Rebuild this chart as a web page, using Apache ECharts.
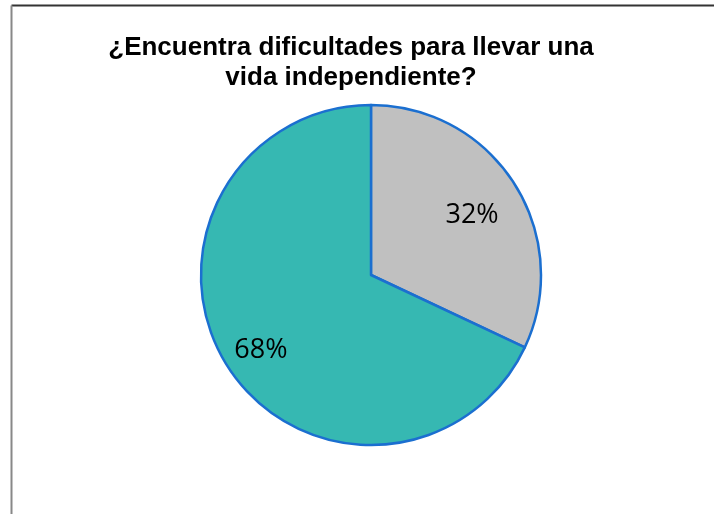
<!DOCTYPE html>
<html>
<head>
<meta charset="utf-8">
<script src="https://cdn.jsdelivr.net/npm/echarts@6/dist/echarts.min.js"></script>
<style>html,body{margin:0;padding:0;background:#fff}#c{width:714px;height:514px}</style>
</head>
<body>
<div id="c"></div>
<script>
const titleText = "¿Encuentra dificultades para llevar una\nvida independiente?";
const categories = ["Sí", "No"];
const values = [32, 68];
const colors = ["#C0C0C0", "#36B8B2"];
const labelOffsets = [[-7, 9], [-2, 7]];

const data = categories.map((c, i) => ({ name: c, value: values[i], itemStyle: { color: colors[i] } }));
const labelData = categories.map((c, i) => ({ name: c, value: values[i], label: { offset: labelOffsets[i] } }));

const chart = echarts.init(document.getElementById('c'));
chart.setOption({
  animation: false,
  backgroundColor: '#fff',
  graphic: [
    { type: 'line', shape: { x1: 11.5, y1: 5.5, x2: 714, y2: 5.5 }, style: { stroke: '#333', lineWidth: 2 } },
    { type: 'line', shape: { x1: 11.5, y1: 5.5, x2: 11.5, y2: 514 }, style: { stroke: '#888', lineWidth: 2 } }
  ],
  title: {
    text: titleText,
    left: 346, top: 28, textAlign: 'center',
    textStyle: { fontFamily: 'Liberation Sans', fontWeight: 'bold', fontSize: 26, lineHeight: 30, color: '#000' }
  },
  series: [
    {
      type: 'pie', center: [371, 275], radius: [0, 170], startAngle: 90, clockwise: true,
      label: { show: false }, labelLine: { show: false }, silent: true,
      itemStyle: { borderColor: '#1B6FD0', borderWidth: 2.5 },
      data: data
    },
    {
      type: 'pie', center: [371, 275], radius: [0, 250], startAngle: 90, clockwise: true, silent: true,
      itemStyle: { color: 'rgba(0,0,0,0)', borderWidth: 0 },
      label: { show: true, position: 'inside', formatter: '{d}%', fontFamily: 'Open Sans', fontSize: 27, color: '#000' },
      labelLine: { show: false },
      data: labelData
    }
  ]
});
</script>
</body>
</html>
